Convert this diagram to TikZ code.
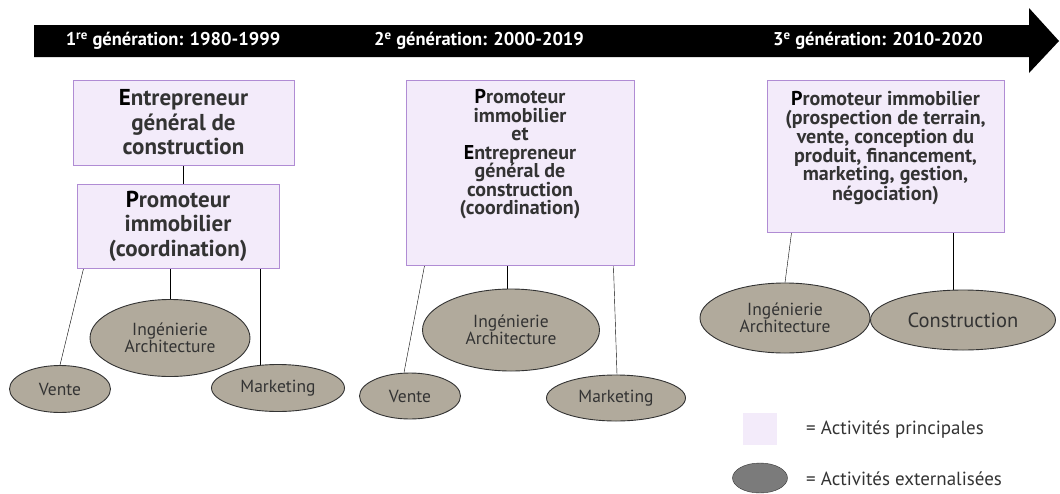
\documentclass[tikz,border=0pt]{standalone}
\usepackage{fontspec}
\setmainfont{PT Sans}
\usepackage{xcolor}
\usetikzlibrary{backgrounds}
\usetikzlibrary{calc}
\usetikzlibrary{shapes.geometric}

\definecolor{boxfill}{HTML}{F3EBFA}
\definecolor{boxline}{HTML}{B08CD4}
\definecolor{ellfill}{HTML}{B1AA9C}
\definecolor{legfill}{HTML}{7B7B7B}
\definecolor{txtgrey}{HTML}{333333}

\begin{document}
\begin{tikzpicture}[x=1pt, y=-1pt,
  actbox/.style={draw=boxline, fill=boxfill, line width=0.9pt, align=center, inner sep=0pt},
  boxtxt/.style={align=center, inner sep=0pt, text=txtgrey, font=\bfseries\fontsize{20}{18.5}\selectfont},
  bigtxt/.style={boxtxt, font=\bfseries\fontsize{23}{24.5}\selectfont},
  extell/.style={ellipse, draw=black!80, fill=ellfill, line width=0.9pt, inner sep=0pt, align=center, text=txtgrey, font=\fontsize{17.5}{17}\selectfont},
  gentxt/.style={text=white, inner sep=0pt, font=\bfseries\fontsize{18.5}{18.5}\selectfont},
  legtxt/.style={anchor=west, inner sep=0pt, text=txtgrey, font=\fontsize{19}{19}\selectfont}]
  \useasboundingbox (0,0) rectangle (1060,493);
  % time arrow
  \fill[black] (34,25) -- (1029,25) -- (1029,8) -- (1059,41) -- (1029,73) -- (1029,57) -- (34,57) -- cycle;
  \node[gentxt] (gen1) at (173,41) {1\textsuperscript{re} génération: 1980-1999};
  \node[gentxt] (gen2) at (479,41) {2\textsuperscript{e} génération: 2000-2019};
  \node[gentxt] (gen3) at (878,41) {3\textsuperscript{e} génération: 2010-2020};
  % 1re generation
  \node[actbox, bigtxt, minimum width=221, minimum height=85] (ent1) at (183.5,122.5)
    {\textcolor{black}{E}ntrepreneur\\général de\\construction};
  \node[actbox, bigtxt, minimum width=202, minimum height=84] (pro1) at (178,226)
    {\textcolor{black}{P}romoteur\\immobilier\\(coordination)};
  \node[extell, minimum width=101, minimum height=47] (vente1) at (60,389) {Vente};
  \node[extell, minimum width=160, minimum height=77] (ing1) at (170,338) {Ingénierie\\Architecture};
  \node[extell, minimum width=133, minimum height=47] (mark1) at (278,388) {Marketing};
  % 2e generation
  \node[actbox, minimum width=228, minimum height=185] (pro2) at (520,172.5) {};
  \node[boxtxt] (pro2txt) at (520,154.5)
    {\textcolor{black}{P}romoteur\\immobilier\\et\\\textcolor{black}{E}ntrepreneur\\général de\\construction\\(coordination)};
  \node[extell, minimum width=101, minimum height=46] (vente2) at (410,396) {Vente};
  \node[extell, minimum width=177, minimum height=82] (ing2) at (511,330) {Ingénierie\\Architecture};
  \node[extell, minimum width=139, minimum height=46] (mark2) at (616,398) {Marketing};
  % 3e generation
  \node[actbox, minimum width=237, minimum height=152] (pro3) at (885.5,156) {};
  \node[boxtxt] (pro3txt) at (885.5,148)
    {\textcolor{black}{P}romoteur immobilier\\(prospection de terrain,\\vente, conception du\\produit, financement,\\marketing, gestion,\\négociation)};
  \node[extell, minimum width=170, minimum height=70] (ing3) at (785,318) {Ingénierie\\Architecture};
  \node[extell, minimum width=185, minimum height=60, font=\fontsize{20.5}{20}\selectfont] (cons3) at (963,320) {Construction};
  % legend
  \node[fill=boxfill, minimum width=34, minimum height=32, inner sep=0pt] (legbox) at (760,429) {};
  \node[ellipse, draw=black!80, fill=legfill, minimum width=55, minimum height=30, inner sep=0pt] (legell) at (760,478) {};
  \node[legtxt] (legbox txt) at (806,430) {= Activités principales};
  \node[legtxt] (legell txt) at (806,479) {= Activités externalisées};
  % links
  \begin{scope}[on background layer, line width=1pt, draw=black!85]
    \draw (ent1) -- (ent1 |- pro1);
    \draw ([xshift=7pt]pro1.south west) -- (vente1.north);
    \draw (ing1.center) -- (ing1 |- pro1);
    \draw ([xshift=-18pt]mark1.center) -- ([xshift=-18pt]mark1.center |- pro1);
    \draw ([xshift=19pt]pro2.south west) -- ([xshift=-6pt]vente2.north);
    \draw ([xshift=-4pt]ing2.center) -- ([xshift=-4pt]ing2.center |- pro2);
    \draw ([xshift=-21pt]pro2.south east) -- ([xshift=1pt]mark2.north);
    \draw ([xshift=25pt]pro3.south west) -- (ing3.north);
    \draw ([xshift=-10pt]cons3.center) -- ([xshift=-10pt]cons3.center |- pro3);
  \end{scope}
\end{tikzpicture}
\end{document}
